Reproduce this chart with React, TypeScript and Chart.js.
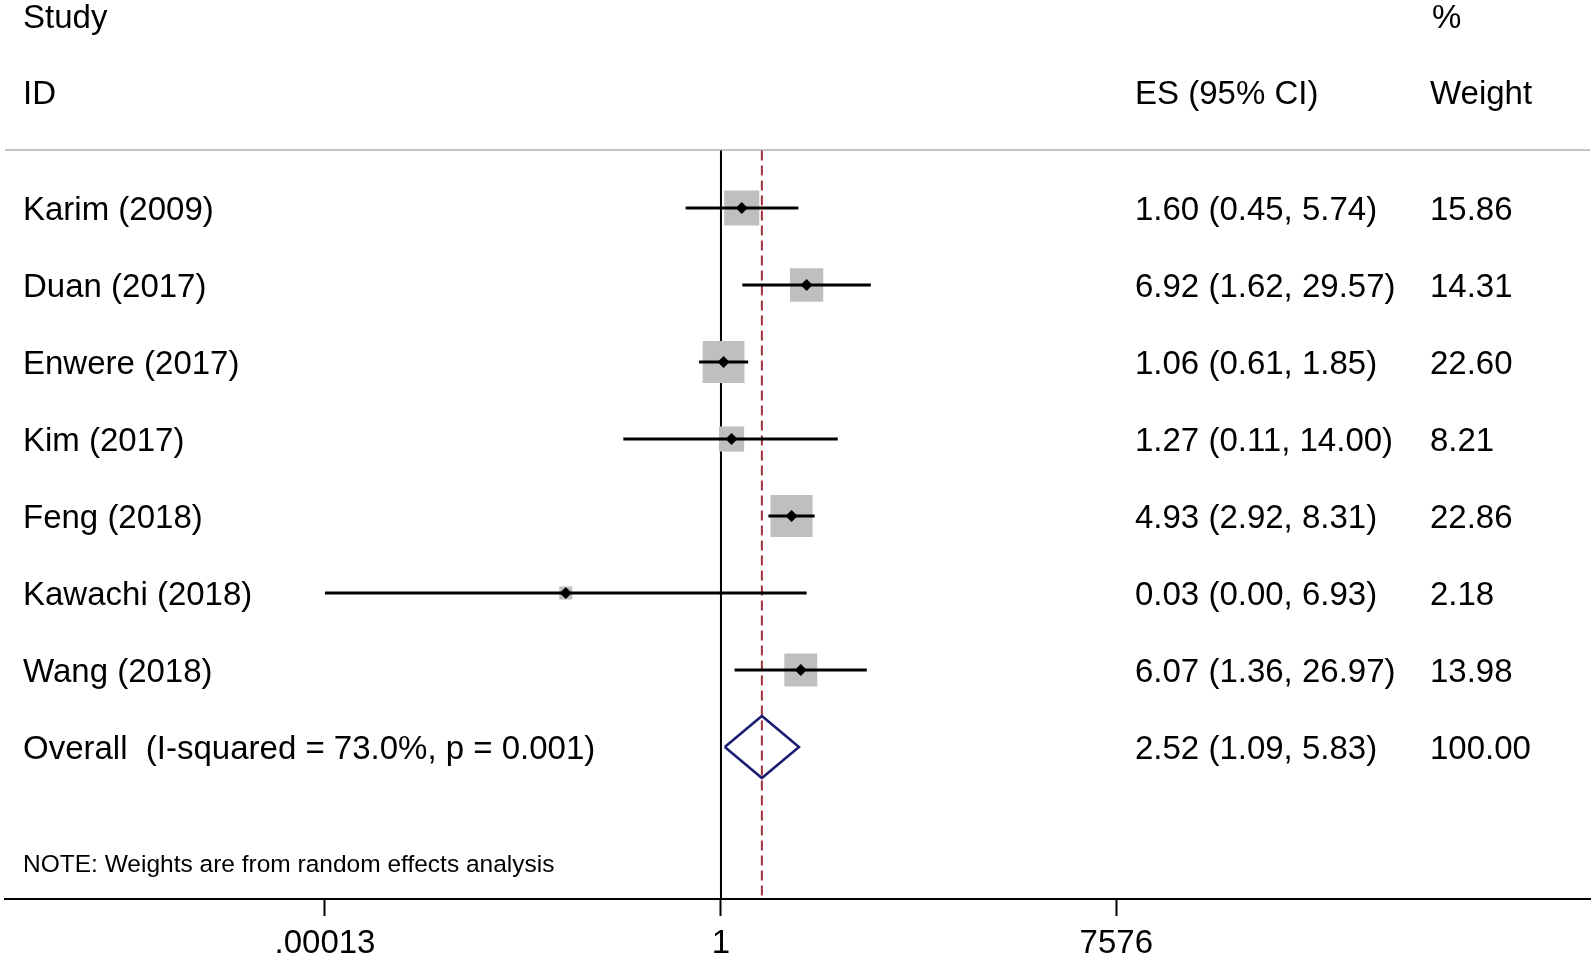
import React, { useEffect, useRef } from 'react';
import { Chart, registerables } from 'chart.js';

Chart.register(...registerables);

// ---------------- data ----------------
const studies = [
  'Karim (2009)',
  'Duan (2017)',
  'Enwere (2017)',
  'Kim (2017)',
  'Feng (2018)',
  'Kawachi (2018)',
  'Wang (2018)',
];
const esValues = [1.6, 6.92, 1.06, 1.27, 4.93, 0.03, 6.07];
const lowerCI = [0.45, 1.62, 0.61, 0.11, 2.92, 0.00013, 1.36];
const upperCI = [5.74, 29.57, 1.85, 14.0, 8.31, 6.93, 26.97];
const weights = [15.86, 14.31, 22.6, 8.21, 22.86, 2.18, 13.98];

const overallLabel = 'Overall  (I-squared = 73.0%, p = 0.001)';
const overallES = 2.52;
const overallLower = 1.09;
const overallUpper = 5.83;
const overallWeight = 100.0;

const tickValues = [0.00013, 1, 7576];
const tickLabels = ['.00013', '1', '7576'];

const headerStudy = ['Study', 'ID'];
const headerES = 'ES (95% CI)';
const headerWeight = ['%', 'Weight'];
const noteText = 'NOTE: Weights are from random effects analysis';

// ---------------- layout / style ----------------
const W = 1595;
const H = 958;
const AXIS_HEIGHT = 59;
const X_MIN_LOG = -7.026;
const X_MAX_LOG = 8.528;
const Y_MIN = -1.701;
const Y_MAX = 9.974;
const HEADER1_Y = -1.50;
const HEADER2_Y = -0.513;
const RULE_Y = 0.253;
const NOTE_Y = 9.5;
const TEXT_DY = 3;
const COL_STUDY = 23;
const COL_ES = 1135;
const COL_WT = 1430;
const SQUARE_K = 8.8;
const DIAMOND_HALF = 0.403;
const FONT = "'Liberation Sans', Arial, Helvetica, sans-serif";
const TEXT_SIZE = 33;
const NOTE_SIZE = 24.5;
const SQUARE_COLOR = '#bfbfbf';
const NAVY = '#1a1c72';
const MAROON = '#a3303c';

const lg = (v: number) => Math.log10(v);

const textPlugin = {
  id: 'forestText',
  beforeDatasetsDraw(chart: any) {
    const { ctx, chartArea, scales } = chart;
    const y = scales.y;
    ctx.save();
    ctx.strokeStyle = '#c4c4c4';
    ctx.lineWidth = 2;
    const ry = Math.round(y.getPixelForValue(RULE_Y));
    ctx.beginPath();
    ctx.moveTo(chartArea.left, ry);
    ctx.lineTo(chartArea.right, ry);
    ctx.stroke();
    ctx.restore();
  },
  afterDraw(chart: any) {
    const { ctx, scales } = chart;
    const y = scales.y;
    ctx.save();
    ctx.fillStyle = '#000';
    ctx.textBaseline = 'middle';
    ctx.textAlign = 'left';
    ctx.font = `${TEXT_SIZE}px ${FONT}`;
    const put = (t: string, x: number, v: number) =>
      ctx.fillText(t, x, y.getPixelForValue(v) + TEXT_DY);
    put(headerStudy[0], COL_STUDY, HEADER1_Y);
    put(headerStudy[1], COL_STUDY, HEADER2_Y);
    put(headerWeight[0], COL_WT + 2, HEADER1_Y);
    put(headerWeight[1], COL_WT, HEADER2_Y);
    put(headerES, COL_ES, HEADER2_Y);
    studies.forEach((s, i) => {
      const row = i + 1;
      put(s, COL_STUDY, row);
      put(
        `${esValues[i].toFixed(2)} (${lowerCI[i].toFixed(2)}, ${upperCI[i].toFixed(2)})`,
        COL_ES,
        row
      );
      put(weights[i].toFixed(2), COL_WT, row);
    });
    const orow = studies.length + 1;
    put(overallLabel, COL_STUDY, orow);
    put(
      `${overallES.toFixed(2)} (${overallLower.toFixed(2)}, ${overallUpper.toFixed(2)})`,
      COL_ES,
      orow
    );
    put(overallWeight.toFixed(2), COL_WT, orow);
    ctx.font = `${NOTE_SIZE}px ${FONT}`;
    put(noteText, COL_STUDY, NOTE_Y);
    ctx.restore();
  },
};

export default function App() {
  const ref = useRef<HTMLCanvasElement | null>(null);

  useEffect(() => {
    if (!ref.current) return;
    const rows = studies.map((_, i) => i + 1);
    const orow = studies.length + 1;

    const ciSets = studies.map((s, i) => ({
      label: `ci-${s}`,
      data: [
        { x: lg(lowerCI[i]), y: rows[i] },
        { x: lg(upperCI[i]), y: rows[i] },
      ],
      showLine: true,
      borderColor: '#000',
      borderWidth: 3.2,
      pointRadius: 0,
      order: 4,
    }));

    const chart = new Chart(ref.current, {
      type: 'scatter',
      data: {
        datasets: [
          {
            label: 'null',
            data: [
              { x: lg(1), y: RULE_Y },
              { x: lg(1), y: Y_MAX },
            ],
            showLine: true,
            borderColor: '#000',
            borderWidth: 2,
            pointRadius: 0,
            order: 7,
          },
          {
            label: 'overall-line',
            data: [
              { x: lg(overallES), y: RULE_Y },
              { x: lg(overallES), y: Y_MAX },
            ],
            showLine: true,
            borderColor: MAROON,
            borderWidth: 2,
            borderDash: [10, 5],
            pointRadius: 0,
            order: 6,
          },
          {
            label: 'weights',
            data: rows.map((r, i) => ({ x: lg(esValues[i]), y: r })),
            pointStyle: 'rect',
            pointRadius: weights.map((w) => (SQUARE_K * Math.sqrt(w)) / Math.SQRT2),
            backgroundColor: SQUARE_COLOR,
            borderWidth: 0,
            order: 5,
          },
          ...ciSets,
          {
            label: 'overall',
            data: [
              { x: lg(overallLower), y: orow },
              { x: lg(overallES), y: orow - DIAMOND_HALF },
              { x: lg(overallUpper), y: orow },
              { x: lg(overallES), y: orow + DIAMOND_HALF },
              { x: lg(overallLower), y: orow },
            ],
            showLine: true,
            fill: false,
            borderColor: NAVY,
            borderWidth: 2.5,
            borderJoinStyle: 'miter',
            pointRadius: 0,
            order: 3,
          },
          {
            label: 'es',
            data: rows.map((r, i) => ({ x: lg(esValues[i]), y: r })),
            pointStyle: 'rectRot',
            pointRadius: 6,
            backgroundColor: '#000',
            borderColor: '#000',
            borderWidth: 0,
            order: 1,
          },
        ] as any,
      },
      options: {
        responsive: false,
        animation: false,
        devicePixelRatio: 1,
        clip: false,
        layout: { autoPadding: false, padding: { left: 5, right: 5, top: 0, bottom: 0 } },
        plugins: { legend: { display: false }, tooltip: { enabled: false } },
        elements: { line: { tension: 0 } },
        scales: {
          x: {
            type: 'linear',
            min: X_MIN_LOG,
            max: X_MAX_LOG,
            afterBuildTicks: (scale: any) => {
              scale.ticks = tickValues.map((v) => ({ value: lg(v) }));
            },
            afterFit: (scale: any) => {
              scale.height = AXIS_HEIGHT;
            },
            ticks: {
              callback: (_v: any, i: number) => tickLabels[i],
              font: { family: FONT, size: TEXT_SIZE, lineHeight: 33 / TEXT_SIZE },
              color: '#000',
              padding: 11,
              maxRotation: 0,
              autoSkip: false,
            },
            grid: {
              display: true,
              drawOnChartArea: false,
              drawTicks: true,
              tickLength: 17,
              tickWidth: 2,
              tickColor: '#000',
            },
            border: { display: true, color: '#000', width: 2 },
          },
          y: {
            type: 'linear',
            reverse: true,
            min: Y_MIN,
            max: Y_MAX,
            display: false,
          },
        },
      } as any,
      plugins: [textPlugin],
    });
    return () => chart.destroy();
  }, []);

  return (
    <div style={{ position: 'fixed', left: 0, top: 0, width: W, height: H, background: '#fff' }}>
      <canvas ref={ref} width={W} height={H} style={{ display: 'block' }} />
    </div>
  );
}
